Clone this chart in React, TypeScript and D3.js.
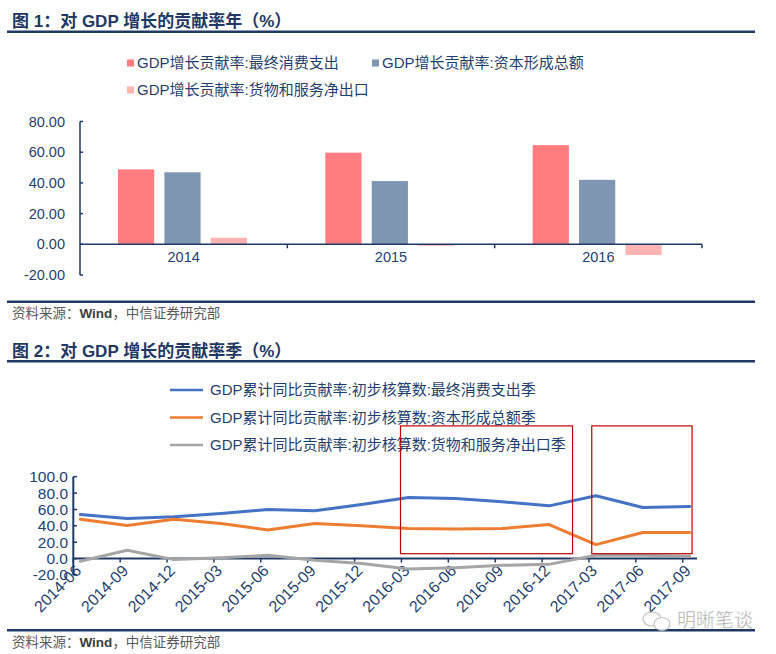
import React from "react";
import * as d3 from "d3";

// ---------- Chart 1 data (annual) ----------
const years = ["2014", "2015", "2016"];
const consumption = [48.8, 59.7, 64.6];
const capital = [46.9, 41.2, 42.0];
const netExports = [4.3, -1.0, -7.0];
const barSeriesNames = [
  "GDP增长贡献率:最终消费支出",
  "GDP增长贡献率:资本形成总额",
  "GDP增长贡献率:货物和服务净出口",
];
const yTicks1 = [-20, 0, 20, 40, 60, 80];

// ---------- Chart 2 data (quarterly) ----------
const quarters = [
  "2014-06", "2014-09", "2014-12", "2015-03", "2015-06", "2015-09", "2015-12",
  "2016-03", "2016-06", "2016-09", "2016-12", "2017-03", "2017-06", "2017-09",
];
const qConsumption = [54, 49, 51, 55, 60, 58.3, 66, 74.7, 73.5, 69.3, 64.4, 76.7, 62.4, 63.7];
const qCapital = [48.1, 40.4, 48.1, 42.8, 35, 42.8, 40, 36.7, 36.3, 36.7, 41.6, 17.1, 31.8, 31.8];
const qNetExports = [-3.3, 10.2, -1.2, 1.2, 4, -2, -6.1, -12.7, -11, -8.2, -7, 4, 4, 2.8];
const lineSeriesNames = [
  "GDP累计同比贡献率:初步核算数:最终消费支出季",
  "GDP累计同比贡献率:初步核算数:资本形成总额季",
  "GDP累计同比贡献率:初步核算数:货物和服务净出口季",
];
const yTicks2 = [-20, 0, 20, 40, 60, 80, 100];
// highlight boxes (in quarter index / value units)
const boxes = [
  { x0: 6.98, x1: 10.65, y0: 6, y1: 162 },
  { x0: 11.06, x1: 13.2, y0: 6, y1: 162 },
];

const NAVY = "#1F3864";
const TEXT = "#1F3F6E";
const FONT = "Arial, 'Liberation Sans', 'Noto Sans CJK SC', sans-serif";
const barColors = ["#FF7C80", "#7F96B2", "#FFB3B3"];
const lineColors = ["#4472C4", "#ED7D31", "#A5A5A5"];

export default function App() {
  // ----- chart 1 scales -----
  const x1 = d3.scaleBand<string>().domain(years).range([80, 702]).padding(0);
  const inner = d3
    .scaleBand<number>()
    .domain([0, 1, 2])
    .range([38, 167])
    .paddingInner(0.22);
  const y1 = d3.scaleLinear().domain([-20, 80]).range([275, 121.5]);
  const barSeries = [consumption, capital, netExports];

  // ----- chart 2 scales -----
  const xq = d3.scaleLinear().domain([0, quarters.length - 1]).range([73.3, 682.7]);
  const dataShift = 0.15;
  const y2 = d3.scaleLinear().domain([-20, 100]).range([575, 476.7]);
  const lineGen = d3
    .line<number>()
    .x((_, i) => xq(i + dataShift))
    .y((d) => y2(d));
  const lineSeries = [qConsumption, qCapital, qNetExports];

  return (
    <svg
      width={776}
      height={654}
      style={{ position: "absolute", left: 0, top: 0, background: "#fff" }}
      fontFamily={FONT}
    >
      <rect x={0} y={0} width={776} height={654} fill="#fff" />

      {/* ===== Chart 1 ===== */}
      <text x={12} y={27} fontSize={17} fontWeight="bold" fill={NAVY}>
        图 1：对 GDP 增长的贡献率年（%）
      </text>
      <rect x={7} y={30.5} width={748} height={2.5} fill={NAVY} />

      {/* legend 1 */}
      {barSeriesNames.map((n, i) => {
        const lx = i === 1 ? 372 : 127;
        const ly = i === 2 ? 90 : 63;
        return (
          <g key={n}>
            <rect x={lx} y={ly - 3.5} width={7} height={7} fill={barColors[i]} />
            <text x={lx + 10} y={ly + 5} fontSize={15} fill={TEXT}>
              {n}
            </text>
          </g>
        );
      })}

      {/* bars */}
      {years.map((yr, ci) =>
        barSeries.map((s, si) => {
          const v = s[ci];
          const bx = (x1(yr) as number) + (inner(si) as number);
          return (
            <rect
              key={yr + si}
              x={bx}
              y={y1(Math.max(0, v))}
              width={inner.bandwidth()}
              height={Math.abs(y1(v) - y1(0))}
              fill={barColors[si]}
            />
          );
        })
      )}

      {/* axes 1 */}
      <line x1={80} x2={80} y1={y1(80)} y2={y1(-20)} stroke={NAVY} strokeWidth={1.5} />
      {yTicks1.map((t) => (
        <g key={t}>
          <line x1={80} x2={83} y1={y1(t)} y2={y1(t)} stroke={NAVY} strokeWidth={1.5} />
          <text x={65} y={y1(t)} dy="0.35em" textAnchor="end" fontSize={14.5} fill={TEXT}>
            {t.toFixed(2)}
          </text>
        </g>
      ))}
      <line x1={80} x2={702} y1={y1(0)} y2={y1(0)} stroke={NAVY} strokeWidth={1.5} />
      {years.map((yr) => (
        <g key={yr}>
          <line
            x1={(x1(yr) as number) + x1.bandwidth()}
            x2={(x1(yr) as number) + x1.bandwidth()}
            y1={y1(0)}
            y2={y1(0) + 4}
            stroke={NAVY}
            strokeWidth={1.5}
          />
          <text
            x={(x1(yr) as number) + x1.bandwidth() / 2}
            y={y1(0) + 18}
            textAnchor="middle"
            fontSize={14.5}
            fill={TEXT}
          >
            {yr}
          </text>
        </g>
      ))}

      <rect x={7} y={300.5} width={748} height={2.5} fill={NAVY} />
      <text x={12} y={318} fontSize={13.5} fill="#595959">
        资料来源：<tspan fontWeight="bold" fill="#404040">Wind</tspan>，中信证券研究部
      </text>

      {/* ===== Chart 2 ===== */}
      <text x={12} y={357} fontSize={17} fontWeight="bold" fill={NAVY}>
        图 2：对 GDP 增长的贡献率季（%）
      </text>
      <rect x={7} y={360} width={748} height={2.5} fill={NAVY} />

      {/* legend 2 */}
      {lineSeriesNames.map((n, i) => {
        const ly = 390 + i * 27.5;
        return (
          <g key={n}>
            <line x1={170} x2={203} y1={ly} y2={ly} stroke={lineColors[i]} strokeWidth={2.5} />
            <text x={210} y={ly + 5} fontSize={15} fill={TEXT}>
              {n}
            </text>
          </g>
        );
      })}

      {/* axes 2 */}
      <line x1={73.3} x2={73.3} y1={y2(100)} y2={y2(-20)} stroke={NAVY} strokeWidth={2} />
      {yTicks2.map((t) => (
        <g key={t}>
          <line x1={73.3} x2={77} y1={y2(t)} y2={y2(t)} stroke={NAVY} strokeWidth={1.5} />
          <text x={68} y={y2(t)} dy="0.35em" textAnchor="end" fontSize={15.5} fill={TEXT}>
            {t.toFixed(1)}
          </text>
        </g>
      ))}
      <line x1={73.3} x2={697} y1={y2(0)} y2={y2(0)} stroke={NAVY} strokeWidth={2} />
      {quarters.map((q, i) => (
        <g key={q}>
          <line x1={xq(i)} x2={xq(i)} y1={y2(0)} y2={y2(0) + 4} stroke={NAVY} strokeWidth={1.5} />
          <text
            transform={`translate(${xq(i) + 9},${y2(0) + 13}) rotate(-45)`}
            textAnchor="end"
            fontSize={16}
            fill={TEXT}
          >
            {q}
          </text>
        </g>
      ))}

      {/* lines */}
      {lineSeries.map((s, i) => (
        <path
          key={i}
          d={lineGen(s) as string}
          fill="none"
          stroke={lineColors[i]}
          strokeWidth={3}
          strokeLinejoin="round"
          strokeLinecap="round"
        />
      ))}

      {/* highlight boxes */}
      {boxes.map((b, i) => (
        <rect
          key={i}
          x={xq(b.x0)}
          y={y2(b.y1)}
          width={xq(b.x1) - xq(b.x0)}
          height={y2(b.y0) - y2(b.y1)}
          fill="none"
          stroke="#C00000"
          strokeWidth={1.2}
        />
      ))}

      <rect x={7} y={629} width={748} height={2.5} fill={NAVY} />
      <text x={12} y={646.5} fontSize={13.5} fill="#595959">
        资料来源：<tspan fontWeight="bold" fill="#404040">Wind</tspan>，中信证券研究部
      </text>

      {/* watermark */}
      <g opacity={0.85}>
        <ellipse cx={652} cy={619} rx={9} ry={7} fill="#fff" stroke="#b8b8b8" strokeWidth={1.2} />
        <ellipse cx={662} cy={624} rx={8} ry={6.5} fill="#fff" stroke="#b8b8b8" strokeWidth={1.2} />
        <text x={677} y={627} fontSize={19} fill="#9a9a9a" stroke="#fff" strokeWidth={0.4}>
          明晰笔谈
        </text>
      </g>
    </svg>
  );
}
